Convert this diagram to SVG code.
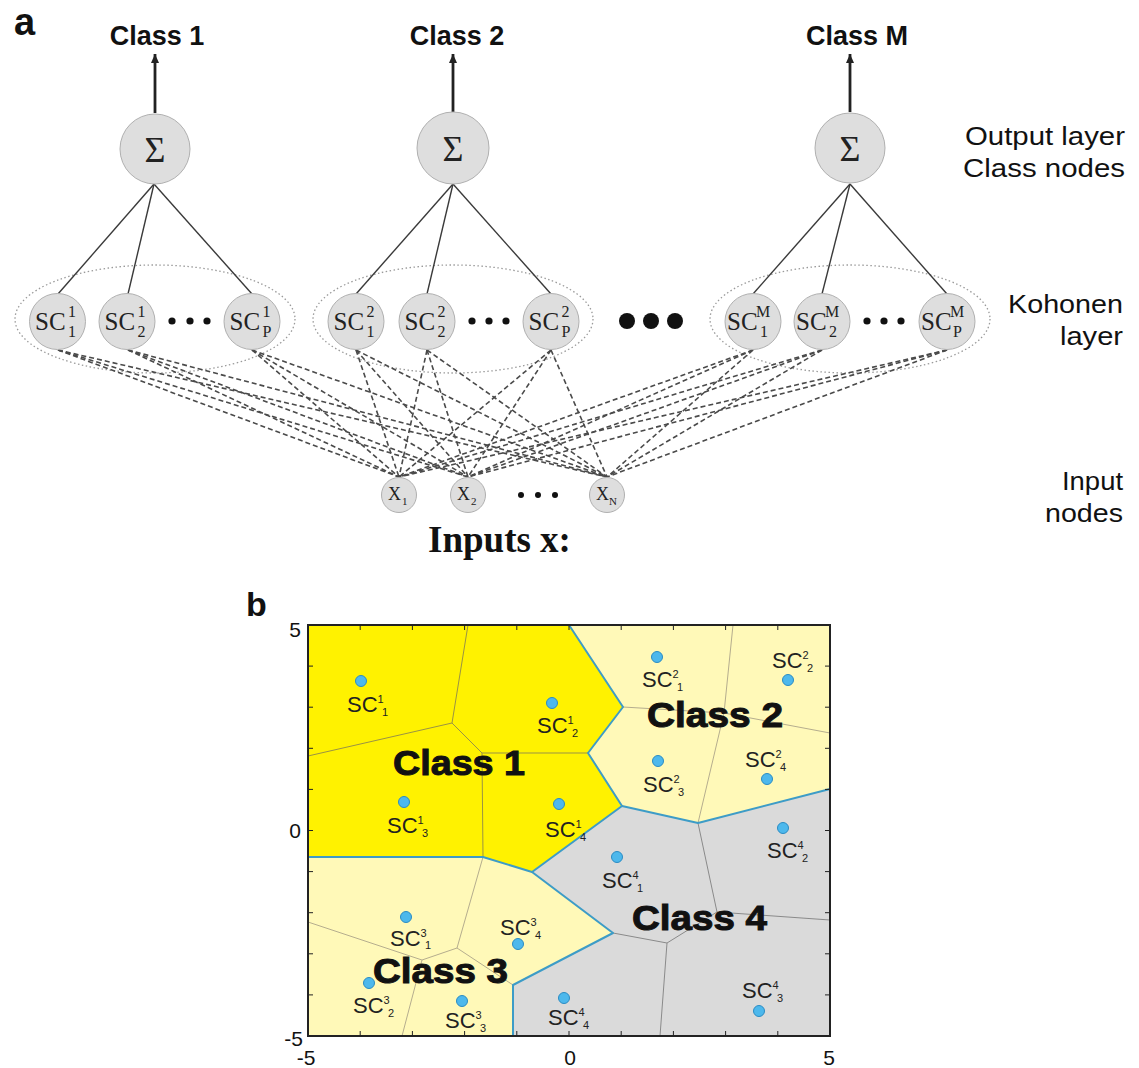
<svg xmlns="http://www.w3.org/2000/svg" width="1139" height="1068" viewBox="0 0 1139 1068">
<style>
.bg{fill:#ffffff}
.node{fill:#dedede;stroke:#b0b0b0;stroke-width:1}
.ell{fill:none;stroke:#9a9a9a;stroke-width:1.3;stroke-dasharray:1.5 2.5}
.dash{stroke:#4a4a4a;stroke-width:1.6;stroke-dasharray:5 3;fill:none}
.solid{stroke:#3a3a3a;stroke-width:1.4;fill:none}
.arrow{stroke:#222;stroke-width:2.8;fill:none}
.serif{font-family:"Liberation Serif","Times New Roman",serif;fill:#222}
.sc{font-size:25px}
.scs{font-size:16px}
.sig{font-size:36px;text-anchor:middle}
.xx{font-size:18px}
.xs{font-size:11px}
.hdr{font-family:"Liberation Sans",Arial,sans-serif;font-weight:bold;font-size:27px;text-anchor:middle;fill:#111}
.side{font-family:"Liberation Sans",Arial,sans-serif;font-size:26px;text-anchor:end;fill:#111}
.panel{font-family:"Liberation Sans",Arial,sans-serif;font-weight:bold;fill:#111}
.inputs{font-family:"Liberation Serif","Times New Roman",serif;font-weight:bold;font-size:37px;fill:#111}
.c1{fill:#fff200}
.c23{fill:#fff9b8}
.c4{fill:#dadada}
.e1{stroke:#9a9344;stroke-width:1;fill:none}
.e2{stroke:#b5ad8e;stroke-width:1;fill:none}
.e4{stroke:#8a8a8a;stroke-width:1;fill:none}
.bd{stroke:#3d9cc7;stroke-width:2;fill:none;stroke-linejoin:round}
.frame{fill:none;stroke:#222;stroke-width:2}
.tick{stroke:#222;stroke-width:1}
.tl{font-family:"Liberation Sans",Arial,sans-serif;font-size:21px;fill:#111}
.dot{fill:#4db8ec;stroke:#2a8cc4;stroke-width:1}
.lab{font-family:"Liberation Sans",Arial,sans-serif;font-size:22px;fill:#222}
.ls{font-size:11px}
.cls{font-family:"Liberation Sans",Arial,sans-serif;font-weight:bold;font-size:35px;fill:#111;stroke:#111;stroke-width:1}
.blk{fill:#111}
</style>
<defs>
<marker id="ah" markerUnits="userSpaceOnUse" markerWidth="9" markerHeight="8" refX="9" refY="4" orient="auto" viewBox="0 0 9 8">
<path d="M0,0 L9,4 L0,8 Z" fill="#222"/>
</marker>
</defs>
<rect class="bg" x="0" y="0" width="1139" height="1068"/>

<!-- Panel a -->
<text class="panel" x="14" y="35" font-size="38">a</text>
<text class="hdr" x="157" y="45">Class 1</text>
<text class="hdr" x="457" y="45">Class 2</text>
<text class="hdr" x="857" y="45">Class M</text>
<text class="side" x="1125" y="145" textLength="160" lengthAdjust="spacingAndGlyphs">Output layer</text>
<text class="side" x="1125" y="177" textLength="162" lengthAdjust="spacingAndGlyphs">Class nodes</text>
<text class="side" x="1123" y="313" textLength="115" lengthAdjust="spacingAndGlyphs">Kohonen</text>
<text class="side" x="1123" y="345" textLength="63" lengthAdjust="spacingAndGlyphs">layer</text>
<text class="side" x="1123" y="490" textLength="61" lengthAdjust="spacingAndGlyphs">Input</text>
<text class="side" x="1123" y="522" textLength="78" lengthAdjust="spacingAndGlyphs">nodes</text>
<text class="inputs" x="428" y="552">Inputs x:</text>

<g id="kohonen-groups">
<ellipse class="ell" cx="155" cy="319" rx="140" ry="54"/>
<ellipse class="ell" cx="453" cy="319" rx="140" ry="54"/>
<ellipse class="ell" cx="850" cy="319" rx="140" ry="54"/>
</g>

<g id="connectors">
<!-- output arrows -->
<line class="arrow" x1="155" y1="113" x2="155" y2="54" marker-end="url(#ah)"/>
<line class="arrow" x1="453" y1="112" x2="453" y2="54" marker-end="url(#ah)"/>
<line class="arrow" x1="850" y1="112" x2="850" y2="54" marker-end="url(#ah)"/>
<!-- class to kohonen -->
<line class="solid" x1="154" y1="184" x2="58" y2="294"/>
<line class="solid" x1="154" y1="184" x2="128" y2="294"/>
<line class="solid" x1="154" y1="184" x2="252" y2="294"/>
<line class="solid" x1="453" y1="184" x2="356" y2="294"/>
<line class="solid" x1="453" y1="184" x2="427" y2="294"/>
<line class="solid" x1="453" y1="184" x2="551" y2="294"/>
<line class="solid" x1="850" y1="184" x2="753" y2="294"/>
<line class="solid" x1="850" y1="184" x2="822" y2="294"/>
<line class="solid" x1="850" y1="184" x2="947" y2="294"/>
<!-- kohonen to inputs -->
<g>
<line class="dash" x1="58" y1="350" x2="399" y2="477"/>
<line class="dash" x1="58" y1="350" x2="468" y2="477"/>
<line class="dash" x1="58" y1="350" x2="607" y2="477"/>
<line class="dash" x1="128" y1="350" x2="399" y2="477"/>
<line class="dash" x1="128" y1="350" x2="468" y2="477"/>
<line class="dash" x1="128" y1="350" x2="607" y2="477"/>
<line class="dash" x1="252" y1="350" x2="399" y2="477"/>
<line class="dash" x1="252" y1="350" x2="468" y2="477"/>
<line class="dash" x1="252" y1="350" x2="607" y2="477"/>
<line class="dash" x1="356" y1="350" x2="399" y2="477"/>
<line class="dash" x1="356" y1="350" x2="468" y2="477"/>
<line class="dash" x1="356" y1="350" x2="607" y2="477"/>
<line class="dash" x1="427" y1="350" x2="399" y2="477"/>
<line class="dash" x1="427" y1="350" x2="468" y2="477"/>
<line class="dash" x1="427" y1="350" x2="607" y2="477"/>
<line class="dash" x1="551" y1="350" x2="399" y2="477"/>
<line class="dash" x1="551" y1="350" x2="468" y2="477"/>
<line class="dash" x1="551" y1="350" x2="607" y2="477"/>
<line class="dash" x1="753" y1="350" x2="399" y2="477"/>
<line class="dash" x1="753" y1="350" x2="468" y2="477"/>
<line class="dash" x1="753" y1="350" x2="607" y2="477"/>
<line class="dash" x1="822" y1="350" x2="399" y2="477"/>
<line class="dash" x1="822" y1="350" x2="468" y2="477"/>
<line class="dash" x1="822" y1="350" x2="607" y2="477"/>
<line class="dash" x1="947" y1="350" x2="399" y2="477"/>
<line class="dash" x1="947" y1="350" x2="468" y2="477"/>
<line class="dash" x1="947" y1="350" x2="607" y2="477"/>
</g>
</g>

<!-- output nodes -->
<g id="sum1"><circle class="node" cx="155" cy="149" r="35"/><text class="serif sig" x="155" y="162">Σ</text></g>
<g id="sum2"><circle class="node" cx="453" cy="148" r="36"/><text class="serif sig" x="453" y="161">Σ</text></g>
<g id="sumM"><circle class="node" cx="850" cy="148" r="35"/><text class="serif sig" x="850" y="161">Σ</text></g>

<!-- kohonen nodes -->
<g id="sc1-1"><circle class="node" cx="57.5" cy="321.5" r="28"/><text class="serif sc" x="35" y="330">SC<tspan class="scs" x="68" y="317">1</tspan><tspan class="scs" x="68" y="337">1</tspan></text></g>
<g id="sc1-2"><circle class="node" cx="127" cy="321.5" r="28"/><text class="serif sc" x="104.5" y="330">SC<tspan class="scs" x="137.5" y="317">1</tspan><tspan class="scs" x="137.5" y="337">2</tspan></text></g>
<g id="sc1-p"><circle class="node" cx="252" cy="321.5" r="28"/><text class="serif sc" x="229.5" y="330">SC<tspan class="scs" x="262.5" y="317">1</tspan><tspan class="scs" x="262.5" y="337">P</tspan></text></g>
<g id="dots1" class="blk"><circle cx="172" cy="321" r="3.6"/><circle cx="190" cy="321" r="3.6"/><circle cx="207" cy="321" r="3.6"/></g>

<g id="sc2-1"><circle class="node" cx="356" cy="321.5" r="28"/><text class="serif sc" x="333.5" y="330">SC<tspan class="scs" x="366.5" y="317">2</tspan><tspan class="scs" x="366.5" y="337">1</tspan></text></g>
<g id="sc2-2"><circle class="node" cx="427" cy="321.5" r="28"/><text class="serif sc" x="404.5" y="330">SC<tspan class="scs" x="437.5" y="317">2</tspan><tspan class="scs" x="437.5" y="337">2</tspan></text></g>
<g id="sc2-p"><circle class="node" cx="551" cy="321.5" r="28"/><text class="serif sc" x="528.5" y="330">SC<tspan class="scs" x="561.5" y="317">2</tspan><tspan class="scs" x="561.5" y="337">P</tspan></text></g>
<g id="dots2" class="blk"><circle cx="472" cy="321" r="3.6"/><circle cx="489" cy="321" r="3.6"/><circle cx="506" cy="321" r="3.6"/></g>

<g id="bigdots" class="blk"><circle cx="627" cy="321" r="8"/><circle cx="651" cy="321" r="8"/><circle cx="675" cy="321" r="8"/></g>

<g id="scM-1"><circle class="node" cx="753" cy="321.5" r="28"/><text class="serif sc" x="727" y="330">SC<tspan class="scs" font-size="15" x="756" y="317">M</tspan><tspan class="scs" x="760" y="337">1</tspan></text></g>
<g id="scM-2"><circle class="node" cx="822" cy="321.5" r="28"/><text class="serif sc" x="796" y="330">SC<tspan class="scs" font-size="15" x="825" y="317">M</tspan><tspan class="scs" x="829" y="337">2</tspan></text></g>
<g id="scM-p"><circle class="node" cx="947" cy="321.5" r="28"/><text class="serif sc" x="921" y="330">SC<tspan class="scs" font-size="15" x="950" y="317">M</tspan><tspan class="scs" x="953" y="337">P</tspan></text></g>
<g id="dotsM" class="blk"><circle cx="867" cy="321" r="3.6"/><circle cx="884" cy="321" r="3.6"/><circle cx="901" cy="321" r="3.6"/></g>

<!-- input nodes -->
<g id="x1"><circle class="node" cx="399" cy="495" r="17.5"/><text class="serif xx" x="388" y="500">X<tspan class="xs" x="402" y="505">1</tspan></text></g>
<g id="x2"><circle class="node" cx="468" cy="495" r="17.5"/><text class="serif xx" x="457" y="500">X<tspan class="xs" x="471" y="505">2</tspan></text></g>
<g id="xN"><circle class="node" cx="607" cy="495" r="17.5"/><text class="serif xx" x="596" y="500">X<tspan class="xs" x="609" y="505">N</tspan></text></g>
<g id="dotsX" class="blk"><circle cx="521" cy="495" r="3"/><circle cx="538" cy="495" r="3"/><circle cx="555" cy="495" r="3"/></g>

<!-- Panel b -->
<text class="panel" x="246" y="616" font-size="34">b</text>
<g id="regions">
<polygon class="c1" points="308,625 569,625 623,707 588,753 622,806 532,872 483,857 308,857"/>
<polygon class="c23" points="569,625 830,625 830,789 698,823 622,806 588,753 623,707"/>
<polygon class="c4" points="622,806 698,823 830,789 830,1036 513,1036 513,985 613,933 532,872"/>
<polygon class="c23" points="308,857 483,857 532,872 613,933 513,985 513,1036 308,1036"/>
</g>
<g id="cell-edges">
<polyline class="e1" points="468,625 452,723 308,756"/>
<polyline class="e1" points="452,723 482,753 588,753"/>
<polyline class="e1" points="482,753 483,857"/>
<polyline class="e2" points="733,625 724,713 698,823"/>
<polyline class="e2" points="623,707 724,713 830,733"/>
<polyline class="e4" points="698,823 717,912 830,920"/>
<polyline class="e4" points="717,912 667,943 613,933"/>
<polyline class="e4" points="667,943 660,1036"/>
<polyline class="e2" points="483,857 457,948 422,960 308,922"/>
<polyline class="e2" points="422,960 402,1036"/>
<polyline class="e2" points="457,948 513,985"/>
</g>
<g id="class-boundaries">
<polyline class="bd" points="569,625 623,707 588,753 622,806 532,872 483,857 308,857"/>
<polyline class="bd" points="622,806 698,823 830,789"/>
<polyline class="bd" points="532,872 613,933 513,985 513,1036"/>
</g>
<g id="axes">
<rect class="frame" x="308" y="625" width="522" height="411"/>
<path class="tick" d="M360.2,1036v-5M412.4,1036v-5M464.6,1036v-5M516.8,1036v-5M569,1036v-5M621.2,1036v-5M673.4,1036v-5M725.6,1036v-5M777.8,1036v-5
M360.2,625v5M412.4,625v5M464.6,625v5M516.8,625v5M569,625v5M621.2,625v5M673.4,625v5M725.6,625v5M777.8,625v5
M308,666.1h5M308,707.2h5M308,748.3h5M308,789.4h5M308,830.5h5M308,871.6h5M308,912.7h5M308,953.8h5M308,994.9h5
M830,666.1h-5M830,707.2h-5M830,748.3h-5M830,789.4h-5M830,830.5h-5M830,871.6h-5M830,912.7h-5M830,953.8h-5M830,994.9h-5"/>
<text class="tl" x="301" y="637" text-anchor="end">5</text>
<text class="tl" x="301" y="838" text-anchor="end">0</text>
<text class="tl" x="303" y="1046" text-anchor="end">-5</text>
<text class="tl" x="306" y="1065" text-anchor="middle">-5</text>
<text class="tl" x="570" y="1065" text-anchor="middle">0</text>
<text class="tl" x="829" y="1065" text-anchor="middle">5</text>
</g>
<g id="prototypes">
<circle class="dot" cx="361" cy="681" r="5.5"/>
<circle class="dot" cx="552" cy="703" r="5.5"/>
<circle class="dot" cx="404" cy="802" r="5.5"/>
<circle class="dot" cx="559" cy="804" r="5.5"/>
<circle class="dot" cx="657" cy="657" r="5.5"/>
<circle class="dot" cx="788" cy="680" r="5.5"/>
<circle class="dot" cx="658" cy="761" r="5.5"/>
<circle class="dot" cx="767" cy="779" r="5.5"/>
<circle class="dot" cx="406" cy="917" r="5.5"/>
<circle class="dot" cx="369" cy="983" r="5.5"/>
<circle class="dot" cx="462" cy="1001" r="5.5"/>
<circle class="dot" cx="518" cy="944" r="5.5"/>
<circle class="dot" cx="617" cy="857" r="5.5"/>
<circle class="dot" cx="783" cy="828" r="5.5"/>
<circle class="dot" cx="759" cy="1011" r="5.5"/>
<circle class="dot" cx="564" cy="998" r="5.5"/>
</g>
<g id="prototype-labels">
<text class="lab" x="347" y="712">SC<tspan class="ls" dy="-9">1</tspan><tspan class="ls" x="382" dy="13">1</tspan></text>
<text class="lab" x="537" y="733">SC<tspan class="ls" dy="-9">1</tspan><tspan class="ls" x="572" dy="13">2</tspan></text>
<text class="lab" x="387" y="833">SC<tspan class="ls" dy="-9">1</tspan><tspan class="ls" x="422" dy="13">3</tspan></text>
<text class="lab" x="545" y="837">SC<tspan class="ls" dy="-9">1</tspan><tspan class="ls" x="580" dy="13">4</tspan></text>
<text class="lab" x="642" y="687">SC<tspan class="ls" dy="-9">2</tspan><tspan class="ls" x="677" dy="13">1</tspan></text>
<text class="lab" x="772" y="668">SC<tspan class="ls" dy="-9">2</tspan><tspan class="ls" x="807" dy="13">2</tspan></text>
<text class="lab" x="643" y="792">SC<tspan class="ls" dy="-9">2</tspan><tspan class="ls" x="678" dy="13">3</tspan></text>
<text class="lab" x="745" y="767">SC<tspan class="ls" dy="-9">2</tspan><tspan class="ls" x="780" dy="13">4</tspan></text>
<text class="lab" x="390" y="946">SC<tspan class="ls" dy="-9">3</tspan><tspan class="ls" x="425" dy="12">1</tspan></text>
<text class="lab" x="353" y="1013">SC<tspan class="ls" dy="-9">3</tspan><tspan class="ls" x="388" dy="13">2</tspan></text>
<text class="lab" x="445" y="1028">SC<tspan class="ls" dy="-9">3</tspan><tspan class="ls" x="480" dy="13">3</tspan></text>
<text class="lab" x="500" y="935">SC<tspan class="ls" dy="-9">3</tspan><tspan class="ls" x="535" dy="13">4</tspan></text>
<text class="lab" x="602" y="888">SC<tspan class="ls" dy="-9">4</tspan><tspan class="ls" x="637" dy="13">1</tspan></text>
<text class="lab" x="767" y="858">SC<tspan class="ls" dy="-9">4</tspan><tspan class="ls" x="802" dy="13">2</tspan></text>
<text class="lab" x="742" y="998">SC<tspan class="ls" dy="-9">4</tspan><tspan class="ls" x="777" dy="13">3</tspan></text>
<text class="lab" x="548" y="1025">SC<tspan class="ls" dy="-9">4</tspan><tspan class="ls" x="583" dy="13">4</tspan></text>
</g>
<g id="class-labels">
<text class="cls" x="393" y="775" textLength="132" lengthAdjust="spacingAndGlyphs">Class 1</text>
<text class="cls" x="647" y="727" textLength="136" lengthAdjust="spacingAndGlyphs">Class 2</text>
<text class="cls" x="373" y="983" textLength="135" lengthAdjust="spacingAndGlyphs">Class 3</text>
<text class="cls" x="632" y="930" textLength="135" lengthAdjust="spacingAndGlyphs">Class 4</text>
</g>
</svg>
